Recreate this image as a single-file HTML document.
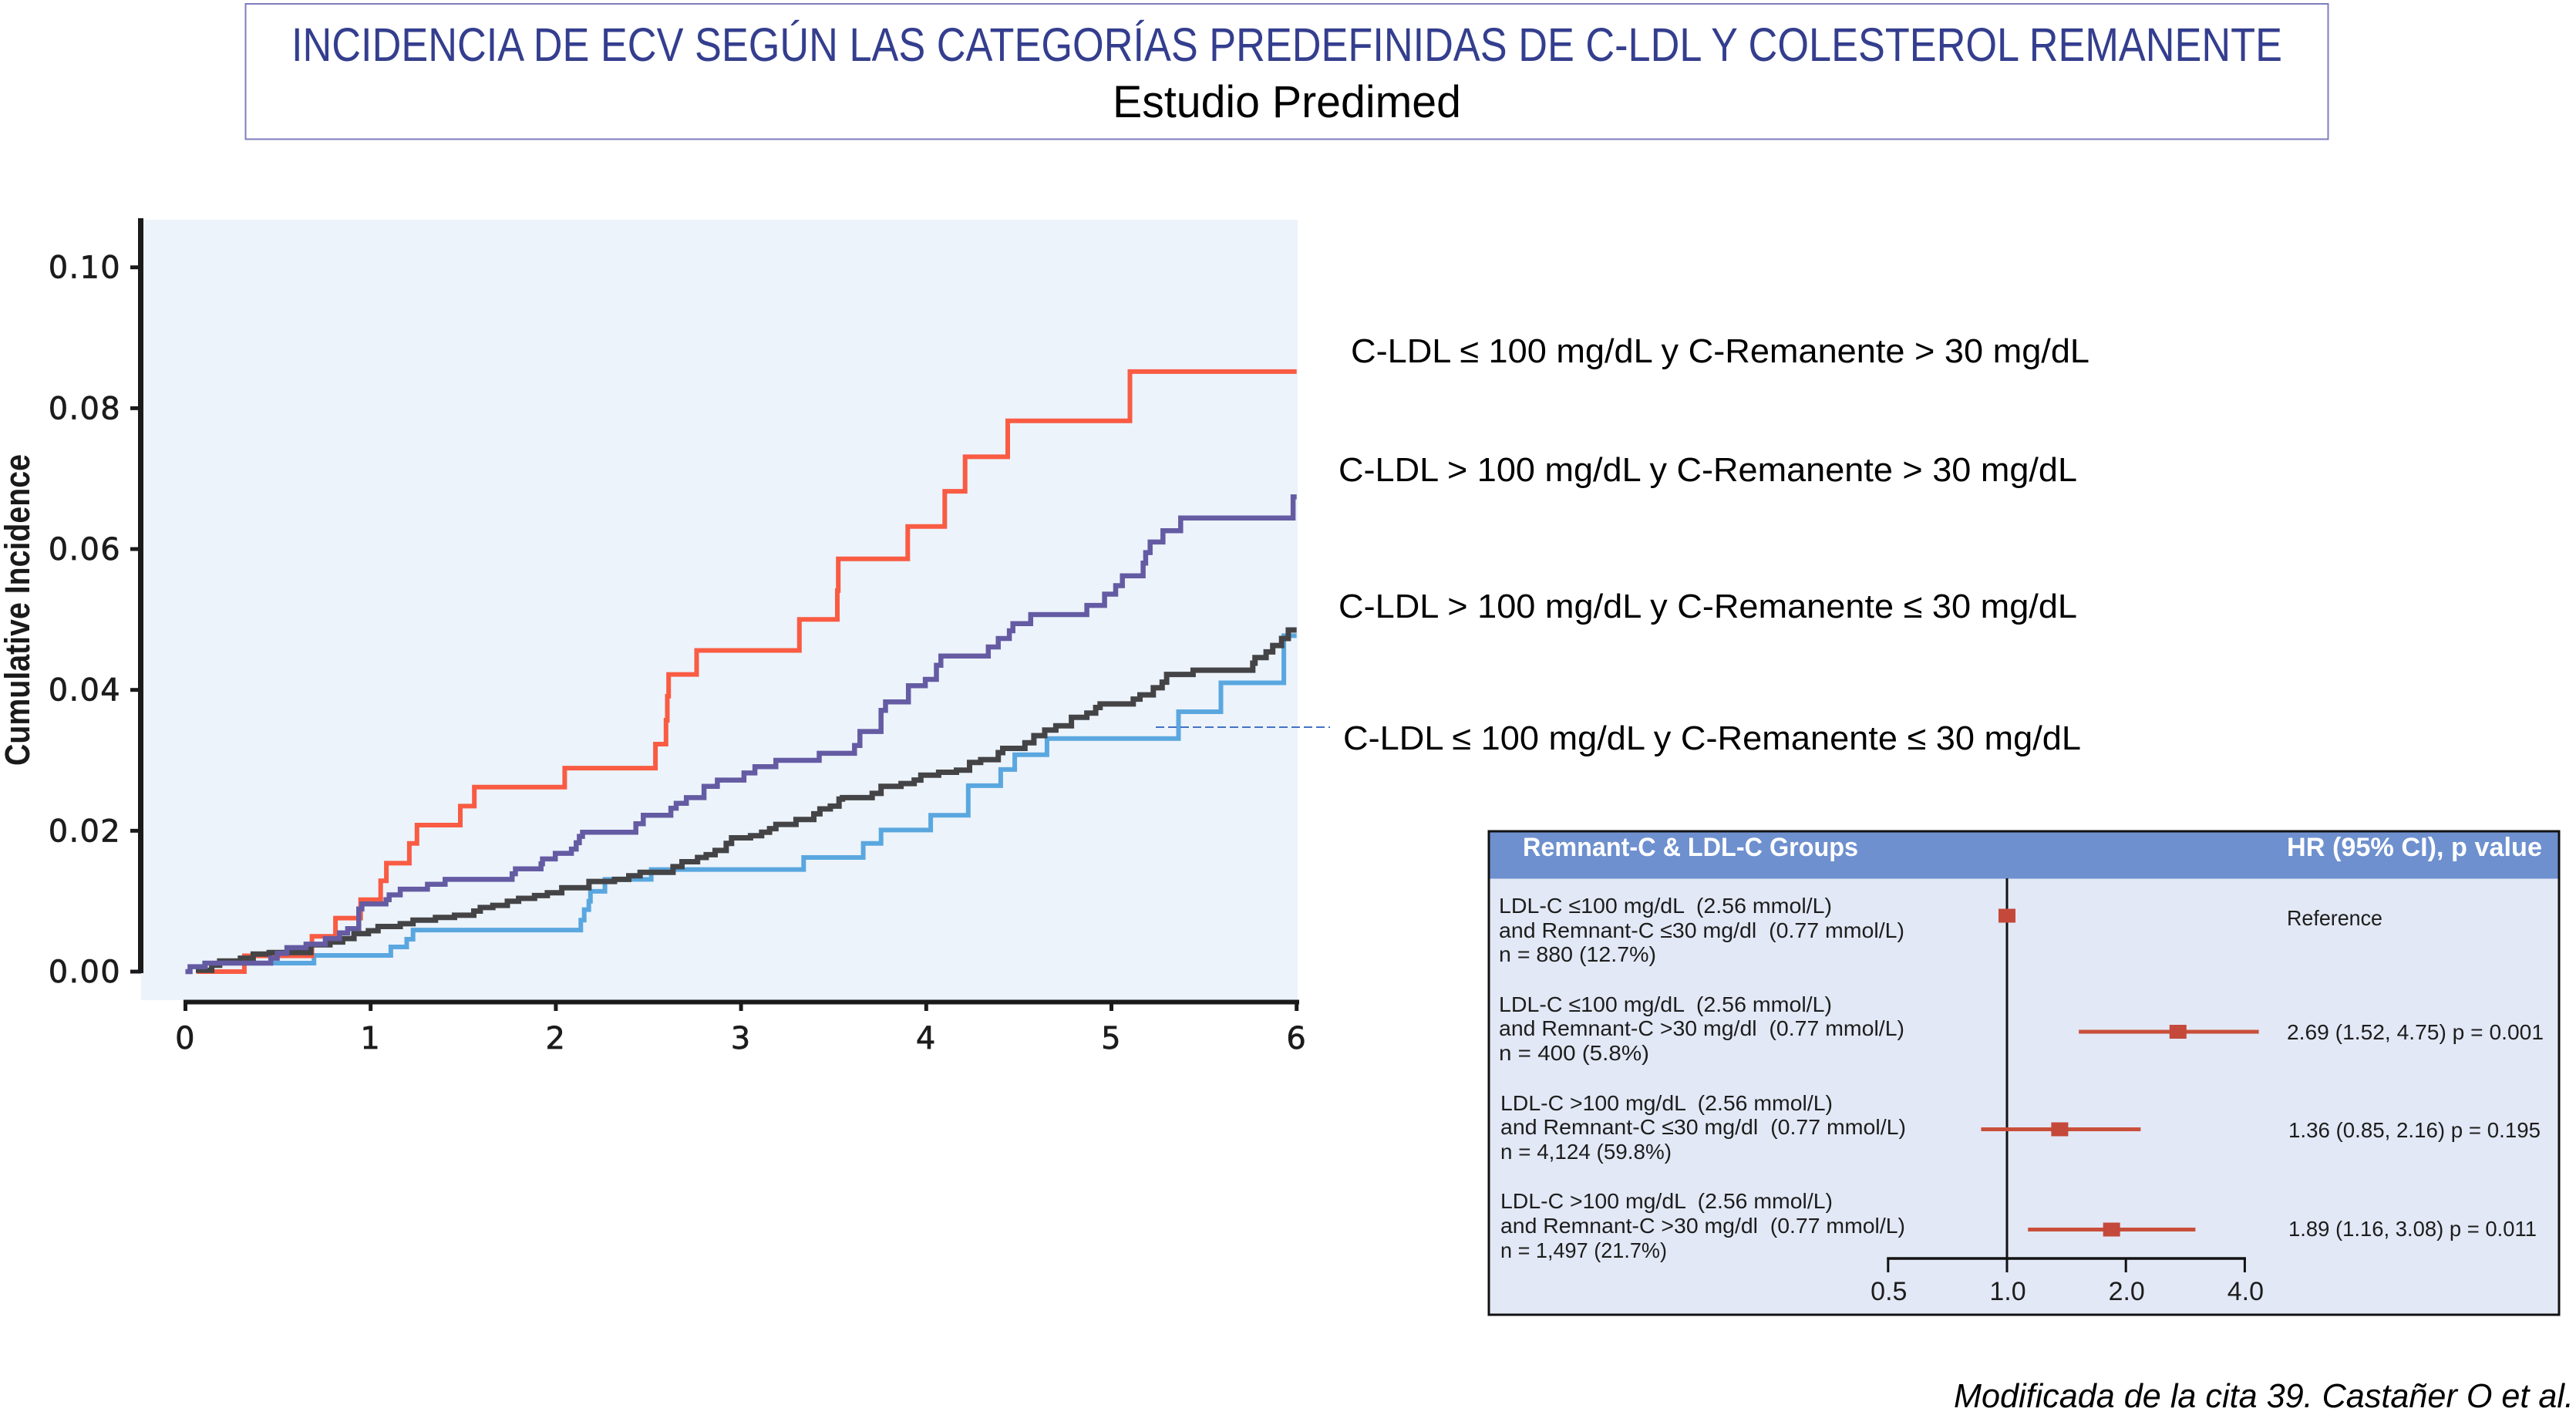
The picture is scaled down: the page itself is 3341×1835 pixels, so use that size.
<!DOCTYPE html>
<html lang="es">
<head>
<meta charset="utf-8">
<title>Incidencia de ECV</title>
<style>
html,body{margin:0;padding:0;background:#fff;width:3341px;height:1835px;overflow:hidden}
svg{display:block}
text{font-family:"Liberation Sans","DejaVu Sans",sans-serif}
.axis-num{font-family:"DejaVu Sans","Liberation Sans",sans-serif;font-size:40px;fill:#1c1c1c;stroke:#1c1c1c;stroke-width:.7px;letter-spacing:1.3px}
.legend-label{font-size:44px;fill:#000}
.row-text{font-size:28px;fill:#1d1d1d}
.hr-text{font-size:28px;fill:#1d1d1d}
</style>
</head>
<body>
<svg id="figure" xmlns="http://www.w3.org/2000/svg" width="3341" height="1835" viewBox="0 0 3341 1835">
  <rect x="0" y="0" width="3341" height="1835" fill="#fff"/>

  <rect x="318.5" y="5" width="2701" height="175.5" fill="#fff" stroke="#7d7dbd" stroke-width="2"/>
  <text x="378" y="79" font-size="61" fill="#343e8e" textLength="2582" lengthAdjust="spacingAndGlyphs">INCIDENCIA DE ECV SEGÚN LAS CATEGORÍAS PREDEFINIDAS DE C-LDL Y COLESTEROL REMANENTE</text>
  <text x="1443" y="152" font-size="58" fill="#000" textLength="452" lengthAdjust="spacingAndGlyphs">Estudio Predimed</text>

  <g id="incidence-chart">
    <rect x="183" y="285" width="1500" height="1012" fill="#ecf3fb"/>
    <g id="incidence-axes"></g>
    <g id="incidence-series"></g>
    <text transform="translate(38,993) rotate(-90)" font-size="45" font-weight="700" fill="#1a1a1a" textLength="404" lengthAdjust="spacingAndGlyphs">Cumulative Incidence</text>
  </g>

  <line x1="1499" y1="943" x2="1725" y2="943" stroke="#4472c4" stroke-width="2" stroke-dasharray="11 5"/>

  <text class="legend-label" x="1752" y="470" textLength="958" lengthAdjust="spacingAndGlyphs">C-LDL ≤ 100 mg/dL y C-Remanente &gt; 30 mg/dL</text>
  <text class="legend-label" x="1736" y="624" textLength="958" lengthAdjust="spacingAndGlyphs">C-LDL &gt; 100 mg/dL y C-Remanente &gt; 30 mg/dL</text>
  <text class="legend-label" x="1736" y="801" textLength="958" lengthAdjust="spacingAndGlyphs">C-LDL &gt; 100 mg/dL y C-Remanente ≤ 30 mg/dL</text>
  <text class="legend-label" x="1742" y="972" textLength="957" lengthAdjust="spacingAndGlyphs">C-LDL ≤ 100 mg/dL y C-Remanente ≤ 30 mg/dL</text>

  <g id="forest-plot">
    <rect x="1931" y="1078" width="1388" height="627" fill="#e2e8f5" stroke="#111" stroke-width="3"/>
    <rect x="1932.5" y="1079.5" width="1385" height="60" fill="#6e90cf"/>
    <text x="1975" y="1110" font-size="34" font-weight="700" fill="#fff" textLength="435" lengthAdjust="spacingAndGlyphs">Remnant-C &amp; LDL-C Groups</text>
    <text x="2966" y="1110" font-size="34" font-weight="700" fill="#fff" textLength="331" lengthAdjust="spacingAndGlyphs">HR (95% CI), p value</text>

    <g>
      <text class="row-text" x="1944" y="1184" textLength="432" lengthAdjust="spacingAndGlyphs">LDL-C ≤100 mg/dL &#160;(2.56 mmol/L)</text>
      <text class="row-text" x="1944" y="1216" textLength="526" lengthAdjust="spacingAndGlyphs">and Remnant-C ≤30 mg/dl &#160;(0.77 mmol/L)</text>
      <text class="row-text" x="1944" y="1247" textLength="204" lengthAdjust="spacingAndGlyphs">n = 880 (12.7%)</text>
      <text class="row-text" x="1944" y="1312" textLength="432" lengthAdjust="spacingAndGlyphs">LDL-C ≤100 mg/dL &#160;(2.56 mmol/L)</text>
      <text class="row-text" x="1944" y="1343" textLength="526" lengthAdjust="spacingAndGlyphs">and Remnant-C &gt;30 mg/dl &#160;(0.77 mmol/L)</text>
      <text class="row-text" x="1944" y="1375" textLength="195" lengthAdjust="spacingAndGlyphs">n = 400 (5.8%)</text>
      <text class="row-text" x="1946" y="1440" textLength="431" lengthAdjust="spacingAndGlyphs">LDL-C &gt;100 mg/dL &#160;(2.56 mmol/L)</text>
      <text class="row-text" x="1946" y="1471" textLength="526" lengthAdjust="spacingAndGlyphs">and Remnant-C ≤30 mg/dl &#160;(0.77 mmol/L)</text>
      <text class="row-text" x="1946" y="1503" textLength="222" lengthAdjust="spacingAndGlyphs">n = 4,124 (59.8%)</text>
      <text class="row-text" x="1946" y="1567" textLength="431" lengthAdjust="spacingAndGlyphs">LDL-C &gt;100 mg/dL &#160;(2.56 mmol/L)</text>
      <text class="row-text" x="1946" y="1599" textLength="525" lengthAdjust="spacingAndGlyphs">and Remnant-C &gt;30 mg/dl &#160;(0.77 mmol/L)</text>
      <text class="row-text" x="1946" y="1631" textLength="216" lengthAdjust="spacingAndGlyphs">n = 1,497 (21.7%)</text>
    </g>

    <g id="forest-marks"></g>

    <g>
      <text class="hr-text" x="2966" y="1200" textLength="124" lengthAdjust="spacingAndGlyphs">Reference</text>
      <text class="hr-text" x="2966" y="1348" textLength="333" lengthAdjust="spacingAndGlyphs">2.69 (1.52, 4.75) p = 0.001</text>
      <text class="hr-text" x="2968" y="1475" textLength="327" lengthAdjust="spacingAndGlyphs">1.36 (0.85, 2.16) p = 0.195</text>
      <text class="hr-text" x="2968" y="1603" textLength="322" lengthAdjust="spacingAndGlyphs">1.89 (1.16, 3.08) p = 0.011</text>
    </g>
  </g>

  <text x="2534" y="1825" font-size="44" font-style="italic" fill="#000" textLength="804" lengthAdjust="spacingAndGlyphs">Modificada de la cita 39. Castañer O et al.</text>
</svg>

<script>
// Cumulative incidence chart data
const yTickLabels = ["0.00", "0.02", "0.04", "0.06", "0.08", "0.10"];
const xTickLabels = ["0", "1", "2", "3", "4", "5", "6"];

const blueTimes = [0.09,0.694,1.109,1.195,1.229,2.135,2.153,2.178,2.187,2.265,2.515,3.338,3.66,3.756,4.024,4.227,4.402,4.478,4.652,5.362,5.591,5.931];
const blueValues = [0.0012,0.0023,0.0035,0.0046,0.0059,0.0073,0.0088,0.01,0.0114,0.0131,0.0145,0.0162,0.0182,0.0201,0.0222,0.0264,0.0287,0.0308,0.0331,0.0369,0.041,0.0477];

const redTimes = [0.06,0.318,0.683,0.81,0.946,1.054,1.085,1.209,1.25,1.484,1.56,2.048,2.538,2.595,2.602,2.609,2.76,3.315,3.52,3.525,3.9,4.1,4.21,4.44,5.1];
const redValues = [0,0.00225,0.005,0.0076,0.0102,0.0129,0.0154,0.0182,0.0208,0.0235,0.0262,0.0289,0.0323,0.0357,0.0391,0.0422,0.0456,0.05,0.0541,0.0586,0.0632,0.0682,0.0731,0.0782,0.0852];

const darkTimes = [0.056,0.142,0.185,0.297,0.366,0.452,0.677,0.78,0.849,0.91,0.988,1.04,1.16,1.229,1.35,1.453,1.557,1.592,1.66,1.738,1.799,1.885,1.954,2.032,2.179,2.317,2.394,2.455,2.633,2.681,2.765,2.812,2.86,2.92,2.949,3.051,3.111,3.154,3.188,3.297,3.393,3.426,3.482,3.529,3.548,3.708,3.756,3.864,3.935,3.971,4.067,4.163,4.234,4.294,4.389,4.413,4.533,4.581,4.64,4.7,4.784,4.867,4.915,4.939,5.118,5.154,5.226,5.274,5.298,5.441,5.763,5.775,5.835,5.871,5.919,5.955];
const darkValues = [0.0002,0.0009,0.0015,0.0019,0.0025,0.0027,0.0038,0.0042,0.0047,0.0054,0.0058,0.0064,0.0068,0.0073,0.0077,0.008,0.0086,0.0091,0.0094,0.01,0.0104,0.0108,0.0112,0.0119,0.0128,0.0131,0.0136,0.0141,0.0149,0.0156,0.0162,0.0166,0.0172,0.0182,0.019,0.0193,0.0198,0.0203,0.0209,0.0216,0.0224,0.0231,0.0235,0.0245,0.0247,0.0253,0.0263,0.0267,0.0272,0.0279,0.0283,0.0286,0.0297,0.0301,0.0311,0.0317,0.0325,0.0335,0.0343,0.0349,0.0361,0.0367,0.0375,0.038,0.0387,0.0393,0.0403,0.0411,0.0422,0.0428,0.0438,0.0446,0.0454,0.0463,0.0473,0.0485];

const purpleTimes = [0,0.025,0.107,0.461,0.496,0.548,0.651,0.755,0.832,0.876,0.936,0.953,1.083,1.1,1.16,1.307,1.402,1.764,1.782,1.92,1.928,1.997,2.084,2.11,2.127,2.144,2.432,2.472,2.621,2.65,2.705,2.8,2.872,3.016,3.075,3.188,3.422,3.613,3.642,3.756,3.78,3.904,3.995,4.055,4.079,4.335,4.389,4.449,4.468,4.564,4.867,4.963,5.023,5.059,5.171,5.185,5.209,5.278,5.374,5.981];
const purpleValues = [0,0.0007,0.0012,0.0019,0.0026,0.0034,0.0039,0.0047,0.0055,0.0061,0.0089,0.0096,0.0102,0.0109,0.0117,0.0124,0.0131,0.0139,0.0146,0.0153,0.016,0.0168,0.0174,0.0183,0.0192,0.0198,0.021,0.0222,0.0232,0.0239,0.0247,0.0263,0.0272,0.0282,0.0291,0.03,0.031,0.0321,0.0341,0.0371,0.0383,0.0406,0.0415,0.0435,0.0448,0.0461,0.0473,0.0484,0.0494,0.0507,0.052,0.0536,0.0548,0.0562,0.058,0.0595,0.061,0.0626,0.0644,0.0674];

// Forest plot data (as plotted in the picture)
const forestTickLabels = ["0.5", "1.0", "2.0", "4.0"];
const forestTickValues = [0.5, 1, 2, 4];
const forestHazardRatios = [1, 2.71, 1.36, 1.84];
const forestCiLow = [null, 1.52, 0.86, 1.13];
const forestCiHigh = [null, 4.34, 2.18, 3.0];

(function () {
  const NS = 'http://www.w3.org/2000/svg';
  function make(parent, tag, attrs) {
    const el = document.createElementNS(NS, tag);
    for (const k in attrs) el.setAttribute(k, attrs[k]);
    parent.appendChild(el);
    return el;
  }
  const xScale = function (t) { return 240.5 + 240.2 * t; };
  const yScale = function (v) { return 1260 - 9133 * v; };

  const axes = document.getElementById('incidence-axes');
  const yAxis = make(axes, 'line', {x1: 182.5, y1: 283, x2: 182.5, y2: 1262, stroke: '#1a1a1a', 'stroke-width': 7});
  
  
  const xAxis = make(axes, 'line', {x1: 238, y1: 1299.5, x2: 1685, y2: 1299.5, stroke: '#1a1a1a', 'stroke-width': 6});
  
  

  yTickLabels.forEach(function (label) {
    const v = parseFloat(label);
    const tick = make(axes, 'line', {x1: 169, y1: yScale(v), x2: 183, y2: yScale(v), stroke: '#1a1a1a', 'stroke-width': 5});
    
    
    const txt = make(axes, 'text', {x: 157, y: yScale(v) + 14, 'text-anchor': 'end', 'class': 'axis-num'});
    txt.textContent = label;
    
    
  });
  xTickLabels.forEach(function (label) {
    const t = parseFloat(label);
    const tick = make(axes, 'line', {x1: xScale(t), y1: 1299, x2: xScale(t), y2: 1311, stroke: '#1a1a1a', 'stroke-width': 5});
    
    
    const txt = make(axes, 'text', {x: xScale(t), y: 1360, 'text-anchor': 'middle', 'class': 'axis-num'});
    txt.textContent = label;
    
    
  });

  function stepPath(times, values) {
    let d = 'M' + xScale(times[0]).toFixed(1) + ' ' + yScale(values[0]).toFixed(1);
    for (let i = 1; i < times.length; i++) {
      d += 'H' + xScale(times[i]).toFixed(1) + 'V' + yScale(values[i]).toFixed(1);
    }
    return d + 'H' + xScale(6).toFixed(1);
  }
  const seriesGroup = document.getElementById('incidence-series');

  const bluePath = make(seriesGroup, 'path', {d: stepPath(blueTimes, blueValues), fill: 'none', stroke: '#5aa7df', 'stroke-width': 6});
  
  

  const redPath = make(seriesGroup, 'path', {d: stepPath(redTimes, redValues), fill: 'none', stroke: '#f95b43', 'stroke-width': 6});
  
  

  const darkPath = make(seriesGroup, 'path', {d: stepPath(darkTimes, darkValues), fill: 'none', stroke: '#444446', 'stroke-width': 7});
  
  

  const purplePath = make(seriesGroup, 'path', {d: stepPath(purpleTimes, purpleValues), fill: 'none', stroke: '#645ba3', 'stroke-width': 6.5});
  
  

  // Forest plot
  const forestX = function (hr) { return 2603 + 154.2 * Math.log2(hr); };
  const forestRowY = function (i) { return [1187.5, 1338, 1464.5, 1594.5][i]; };
  const marks = document.getElementById('forest-marks');

  const refLine = make(marks, 'line', {x1: forestX(1), y1: 1139, x2: forestX(1), y2: 1650, stroke: '#111', 'stroke-width': 3});
  
  

  const fAxis = make(marks, 'line', {x1: forestX(0.5) - 1.5, y1: 1632, x2: forestX(4) + 1.5, y2: 1632, stroke: '#111', 'stroke-width': 3.5});
  
  

  forestTickValues.forEach(function (val, i) {
    const tick = make(marks, 'line', {x1: forestX(val), y1: 1631, x2: forestX(val), y2: 1650, stroke: '#111', 'stroke-width': 3});
    
    
    const txt = make(marks, 'text', {x: forestX(val) + 1, y: 1686, 'text-anchor': 'middle', 'font-size': 34, fill: '#1d1d1d'});
    txt.textContent = forestTickLabels[i];
    
    
  });

  forestHazardRatios.forEach(function (hr, i) {
    const y = forestRowY(i);
    if (forestCiLow[i] !== null) {
      const ci = make(marks, 'line', {x1: forestX(forestCiLow[i]), y1: y, x2: forestX(forestCiHigh[i]), y2: y, stroke: '#c94f3a', 'stroke-width': 5});
      
      
    }
    const box = make(marks, 'rect', {x: forestX(hr) - 11, y: y - 9, width: 22, height: 18, fill: '#c4493a'});
    
    
  });
})();
</script>
</body>
</html>
